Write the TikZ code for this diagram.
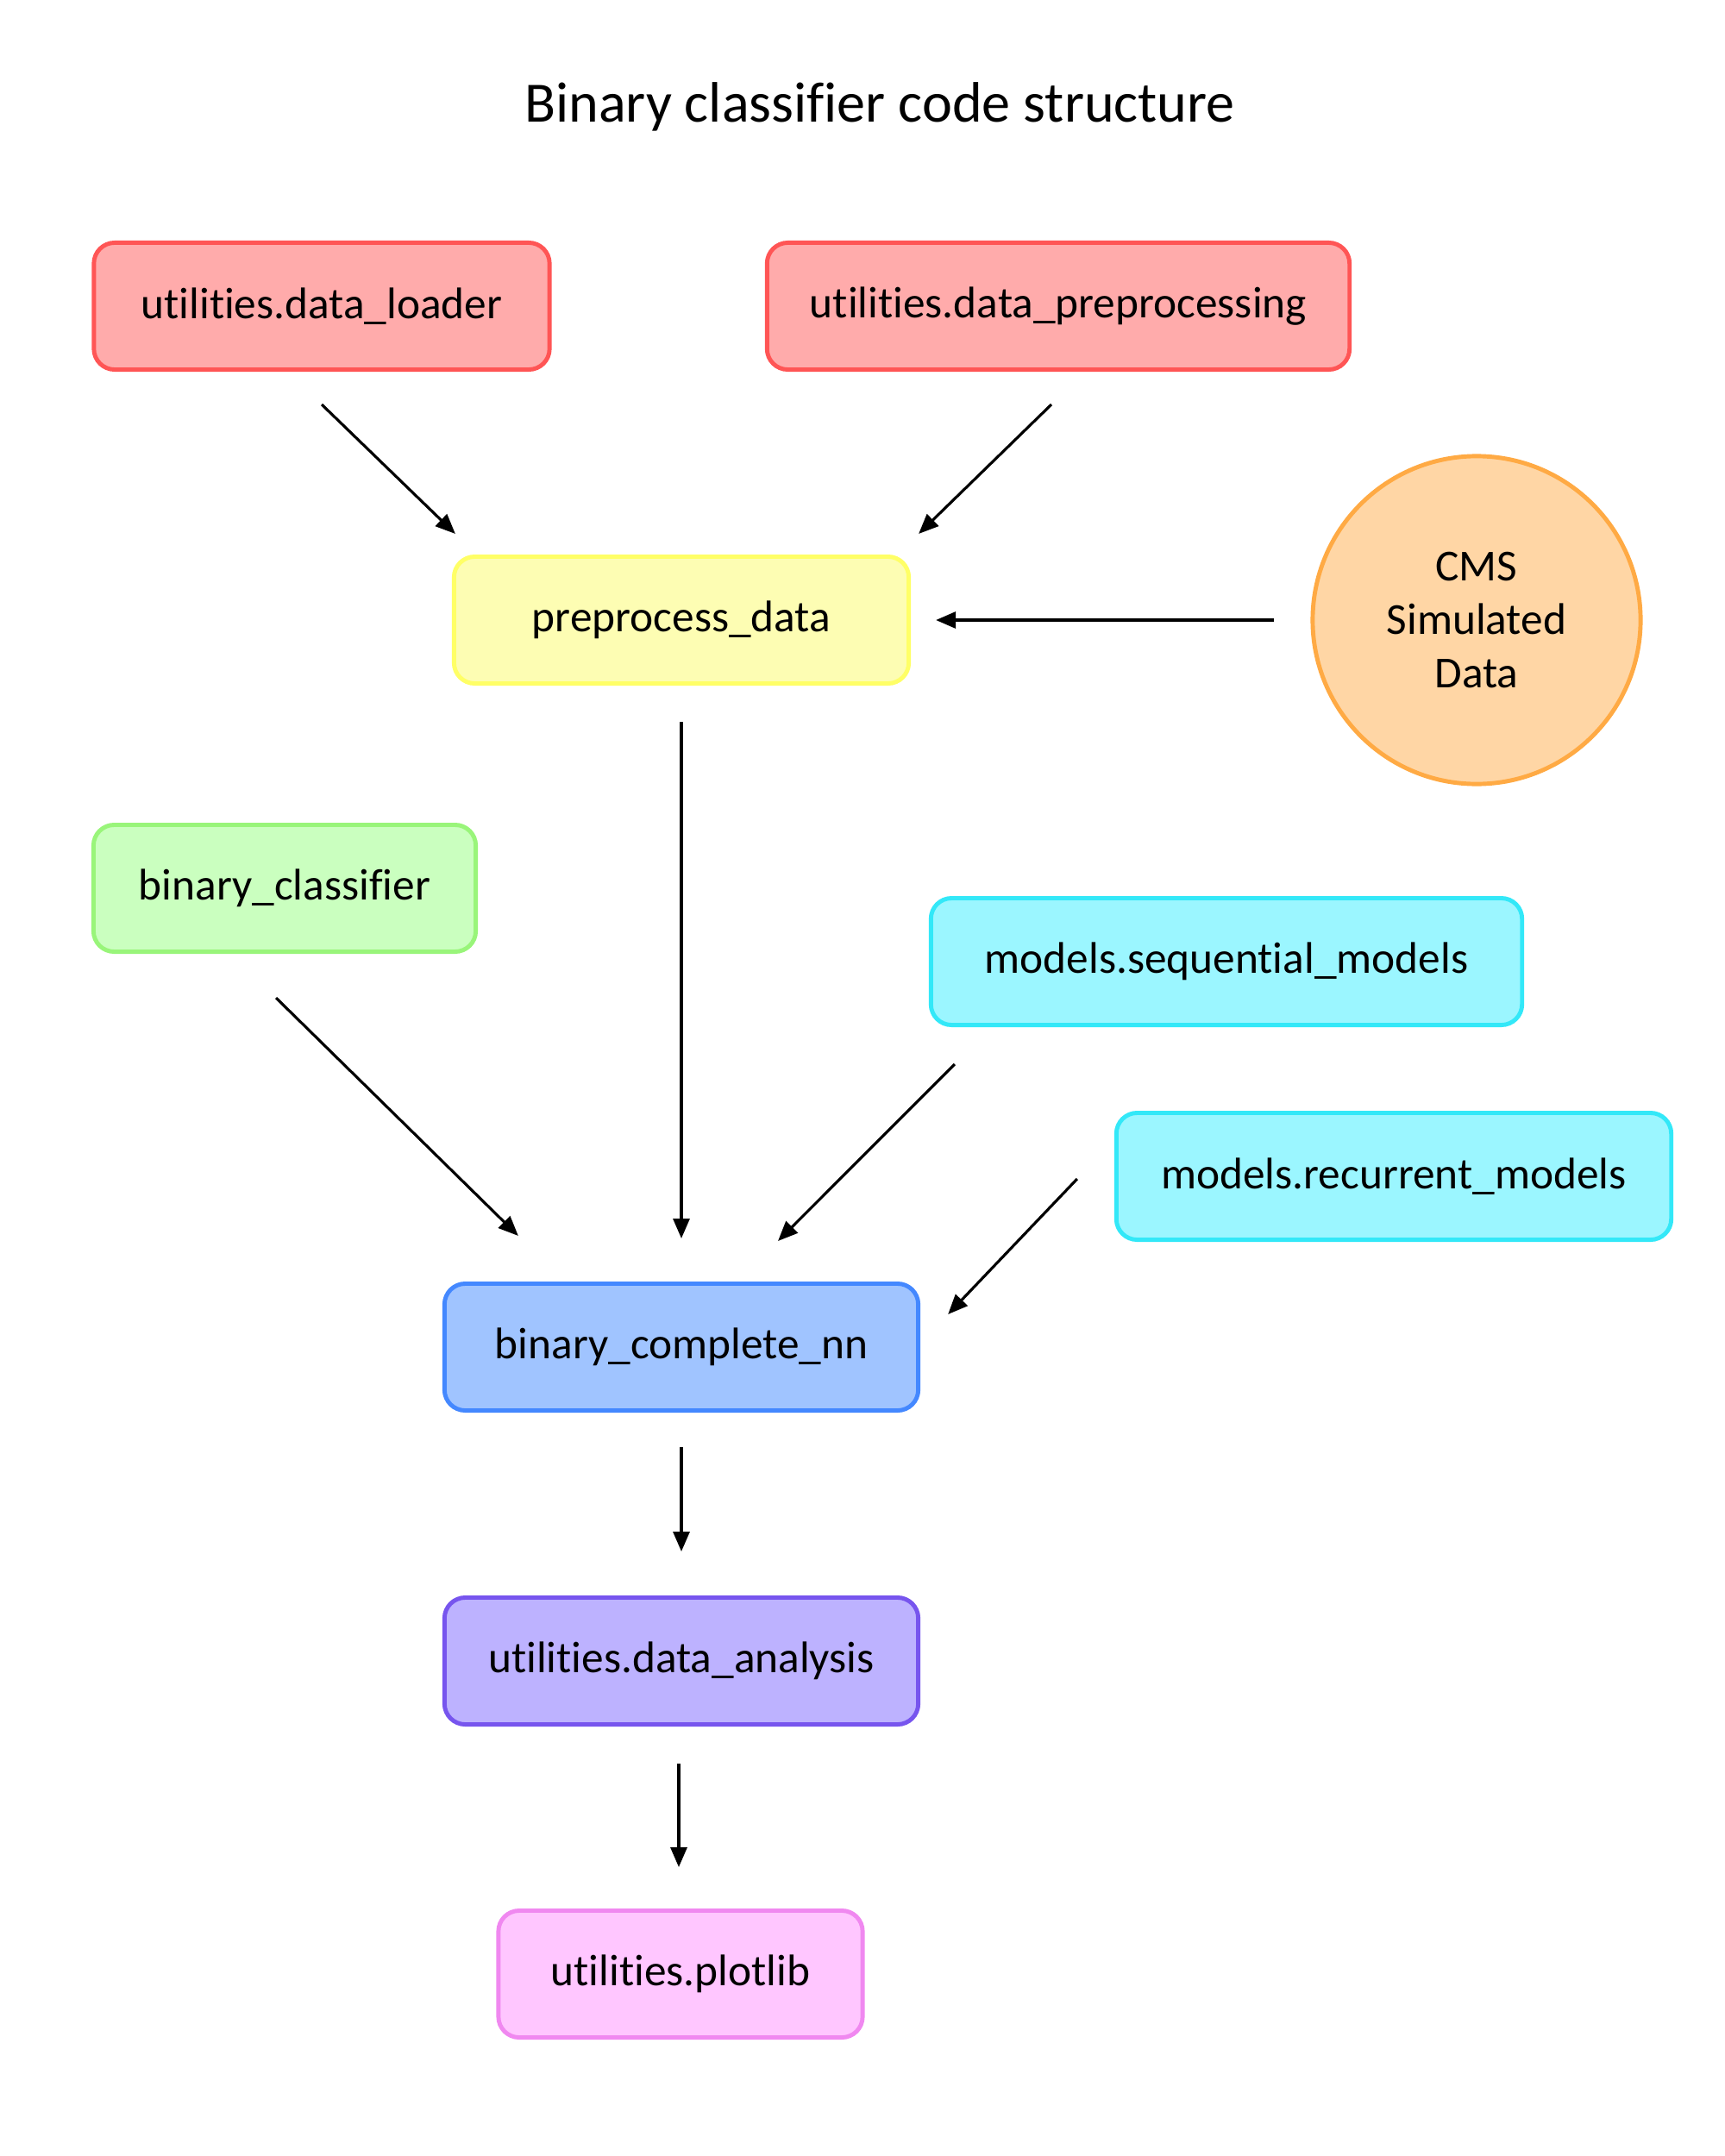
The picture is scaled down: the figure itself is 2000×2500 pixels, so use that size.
\documentclass[tikz,border=0pt]{standalone}
\usepackage{fontspec}
\setmainfont{Carlito}[Ligatures=CommonOff]
\usetikzlibrary{calc,arrows.meta,shapes.geometric}
\definecolor{redF}{HTML}{FFABAB}\definecolor{redD}{HTML}{FF5555}
\definecolor{yelF}{HTML}{FDFDB3}\definecolor{yelD}{HTML}{FFFF66}
\definecolor{orF}{HTML}{FFD6A5}\definecolor{orD}{HTML}{FFAA44}
\definecolor{grF}{HTML}{CAFFBF}\definecolor{grD}{HTML}{99F57A}
\definecolor{cyF}{HTML}{9BF6FF}\definecolor{cyD}{HTML}{33E8F8}
\definecolor{blF}{HTML}{A0C4FF}\definecolor{blD}{HTML}{4488FF}
\definecolor{puF}{HTML}{BDB2FF}\definecolor{puD}{HTML}{7755EE}
\definecolor{piF}{HTML}{FFC6FF}\definecolor{piD}{HTML}{F088F0}
\tikzset{
  box/.style={draw=#1D, fill=#1F, line width=1.4pt, rounded corners=0.24cm,
    minimum height=1.47cm, inner sep=0pt, font=\fontsize{14.6}{17.6}\selectfont},
  arr/.style={line width=0.9pt, -{Triangle[length=0.23cm,width=0.19cm]}}
}
\begin{document}
\begin{tikzpicture}[x=0.01cm,y=-0.01cm]
\useasboundingbox (0,4) rectangle (2000,2504);
\node[font=\fontsize{18.8}{22}\selectfont] (title) at (1020,128) {Binary classifier code structure};
\node[box=red, minimum width=5.28cm] (dl) at (373,359) {utilities.data\_loader};
\node[box=red, minimum width=6.75cm] (dp) at (1227,359) {utilities.data\_preprocessing};
\node[box=yel, minimum width=5.27cm] (pp) at (790,723) {preprocess\_data};
\node[circle, draw=orD, fill=orF, line width=1.4pt, minimum size=3.8cm, inner sep=0pt,
  align=center, font=\fontsize{14.6}{17.6}\selectfont] (cms) at (1712,723) {CMS\\Simulated\\Data};
\node[box=gr, minimum width=4.43cm] (bcl) at (330,1034) {binary\_classifier};
\node[box=cy, minimum width=6.85cm] (sm) at (1422,1119) {models.sequential\_models};
\node[box=cy, minimum width=6.43cm] (rm) at (1616,1368) {models.recurrent\_models};
\node[box=bl, minimum width=5.49cm] (bc) at (790,1566) {binary\_complete\_nn};
\node[box=pu, minimum width=5.49cm] (da) at (790,1930) {utilities.data\_analysis};
\node[box=pi, minimum width=4.22cm] (pl) at (789,2293) {utilities.plotlib};

\draw[arr] ($(dl.south)+(0,38)$) -- ($(pp.north west)+(4,-24)$);
\draw[arr] ($(dp.south)+(-8,38)$) -- ($(pp.north east)+(9,-24)$);
\draw[arr] ($(cms.west)+(-42,0)$) -- ($(pp.east)+(29,0)$);
\draw[arr] ($(pp.south)+(0,42)$) -- ($(bc.north)+(0,-50)$);
\draw[arr] ($(bcl.south)+(-10,51)$) -- ($(bc.north west)+(88,-53)$);
\draw[arr] ($(sm.south west)+(30,43)$) -- ($(bc.north)+(112,-47)$);
\draw[arr] ($(rm.west)+(-43,3)$) -- ($(bc.east)+(32,-38)$);
\draw[arr] ($(bc.south)+(0,40)$) -- ($(da.north)+(0,-51)$);
\draw[arr] ($(da.south)+(-3,43)$) -- ($(pl.north)+(-2,-48)$);
\end{tikzpicture}
\end{document}
